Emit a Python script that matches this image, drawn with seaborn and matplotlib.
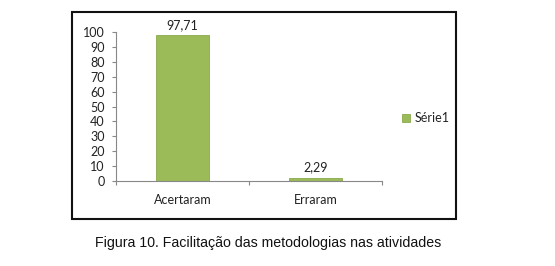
import matplotlib
matplotlib.use("Agg")
import matplotlib.pyplot as plt
import seaborn as sns
import pandas as pd
from matplotlib.patches import Rectangle

categories = ["Acertaram", "Erraram"]
values = [97.71, 2.29]
value_labels = ["97,71", "2,29"]
series_name = "Série1"
yticks = [0, 10, 20, 30, 40, 50, 60, 70, 80, 90, 100]
caption = "Figura 10. Facilitação das metodologias nas atividades"

sns.set_style("white")
plt.rcParams['font.family'] = ['Lato', 'DejaVu Sans']

df = pd.DataFrame({"cat": categories, "val": values, "serie": series_name})

fig = plt.figure(figsize=(5.55, 2.66), dpi=100)
ax = fig.add_axes([116/555, 1-181/266, 266/555, 149/266])

sns.barplot(data=df, x="cat", y="val", hue="serie", palette=["#9BBB59"], saturation=1,
            width=0.4, ax=ax, edgecolor="#8AAA4C", linewidth=0.6)

fs = 9
ax.set_ylim(0, 100)
ax.set_xlim(-0.5, 1.5)
ax.set_yticks(yticks)
ax.set_yticklabels([str(t) for t in yticks], fontsize=fs, color="#222222")
ax.set_xticks(range(len(categories)))
ax.set_xticklabels(categories, fontsize=fs, color="#222222")
ax.set_xlabel("")
ax.set_ylabel("")
ax.tick_params(axis="x", length=0, pad=9)
ax.tick_params(axis="y", length=3, width=0.8, color="#888888", pad=5, left=True, direction="out")
ax.set_xticks([-0.5, 0.5, 1.5], minor=True)
ax.tick_params(axis="x", which="minor", length=3, width=0.8, color="#888888", bottom=True, direction="out")

for s in ["top", "right"]:
    ax.spines[s].set_visible(False)
for s in ["left", "bottom"]:
    ax.spines[s].set_color("#888888")
    ax.spines[s].set_linewidth(0.8)

for container in ax.containers:
    ax.bar_label(container, labels=value_labels, padding=3, fontsize=fs, color="#222222")

leg = ax.legend(loc="center left", frameon=False, fontsize=fs, handlelength=0.6, handleheight=0.6,
                handletextpad=0.4, borderpad=0, borderaxespad=0)
for t in leg.get_texts():
    t.set_color("#222222")
leg.set_bbox_to_anchor((402/555, 1-118/266), transform=fig.transFigure)

fig.patches.append(Rectangle((72/555, 1-219/266), 384/555, 207/266, transform=fig.transFigure,
                             fill=False, edgecolor="#111111", linewidth=1.5))

fig.text(268/555, 1-243/266, caption, ha="center", va="center", fontsize=10.2,
         family=["Liberation Sans", "DejaVu Sans"], color="#111111")

fig.savefig("out.png", dpi=100)
